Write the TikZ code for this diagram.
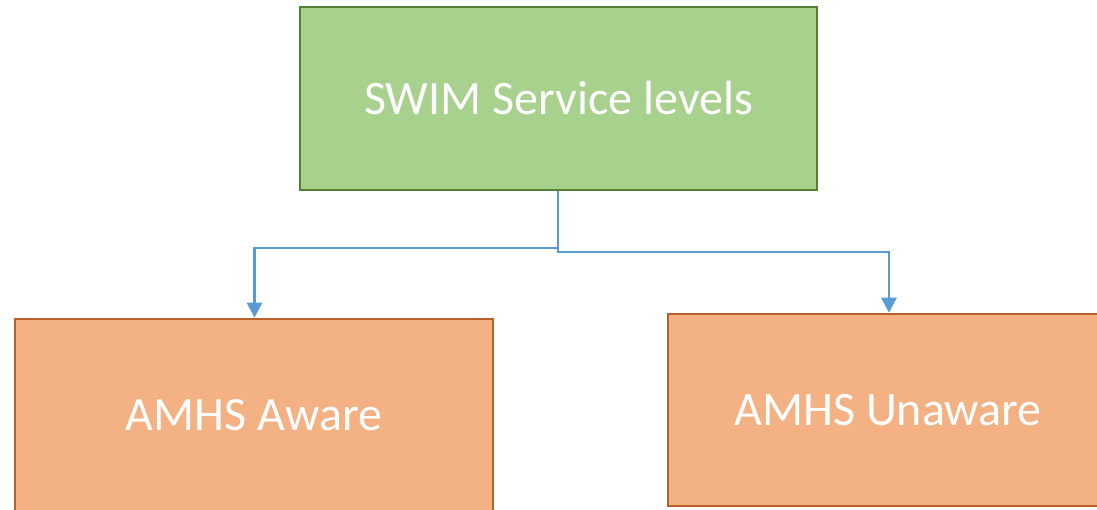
\documentclass[tikz,border=0pt]{standalone}
\usepackage{fontspec}
\setmainfont{Carlito}
\usetikzlibrary{arrows.meta}
\definecolor{gfill}{HTML}{A9D18E}
\definecolor{gdraw}{HTML}{548235}
\definecolor{ofill}{HTML}{F4B183}
\definecolor{odraw}{HTML}{B9612A}
\definecolor{conn}{HTML}{5B9BD5}
\tikzset{
  topbox/.style={draw=gdraw, fill=gfill, line width=2.5pt, minimum width=517pt, minimum height=183pt, inner sep=0pt, text=white, font=\fontsize{48}{56}\selectfont},
  subbox/.style={draw=odraw, fill=ofill, line width=2.5pt, inner sep=0pt, text=white, font=\fontsize{48}{56}\selectfont},
  conline/.style={draw=conn, line width=2.5pt, -{Triangle[length=15pt,width=15pt]}},
}
\begin{document}
\begin{tikzpicture}[x=1pt,y=-1pt]
\useasboundingbox (0,0) rectangle (1097,510);
\clip (0,0) rectangle (1097,510);
\node[topbox] (top) at (558.5,98.5) {SWIM Service levels};
\node[subbox, minimum width=478pt, minimum height=193pt] (left) at (254,415.5) {AMHS Aware};
\node[subbox, minimum width=440pt, minimum height=192pt] (right) at (888,410) {AMHS Unaware};
\coordinate (j1) at (558,248);
\coordinate (j2) at (558,252);
\draw[conline] (top.south -| j1) -- (j1) -- (254.5,248) -- (left.north -| 254.5,0);
\draw[conline] (j1) -- (j2) -- (889,252) -- (right.north -| 889,0);
\end{tikzpicture}
\end{document}
